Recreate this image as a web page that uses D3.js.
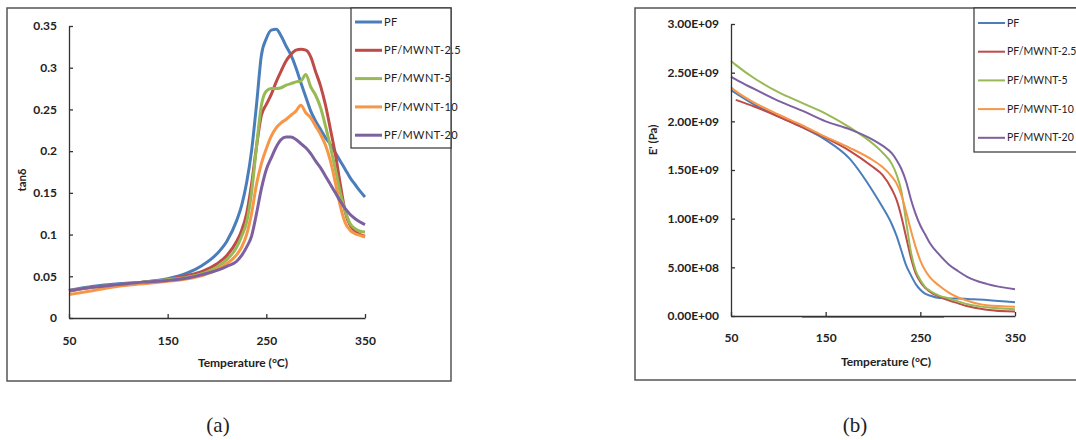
<!DOCTYPE html>
<html>
<head>
<meta charset="utf-8">
<script src="https://cdn.jsdelivr.net/npm/d3@7"></script>
<style>
  body { margin: 0; background: #fff; }
  text { font-family: Lato, "Open Sans", sans-serif; fill: #222; }
</style>
</head>
<body>
<script>
// series names + colours (Excel 2007 palette)
const seriesNames = ["PF", "PF/MWNT-2.5", "PF/MWNT-5", "PF/MWNT-10", "PF/MWNT-20"];
const seriesColors = ["#4a7ebb", "#be4b48", "#98b954", "#f79646", "#7d60a0"];

// panel (a): tan delta vs temperature
const tempsA = [50, 75, 100, 125, 150, 170, 185, 200, 210, 220, 225, 230, 235, 240, 245, 250, 255, 260,
  265, 270, 275, 280, 285, 290, 295, 300, 305, 310, 315, 320, 325, 330, 335, 340, 345, 350];
const tanPF = [0.033, 0.038, 0.041, 0.043, 0.047, 0.054, 0.063, 0.077, 0.092, 0.117, 0.135, 0.162, 0.200, 0.255,
  0.315, 0.335, 0.345, 0.346, 0.338, 0.326, 0.315, 0.300, 0.282, 0.265, 0.248, 0.236, 0.226, 0.216, 0.208,
  0.198, 0.188, 0.178, 0.168, 0.160, 0.152, 0.145];
const tanMW25 = [0.032, 0.037, 0.040, 0.043, 0.046, 0.051, 0.056, 0.065, 0.075, 0.092, 0.105, 0.125, 0.160, 0.205,
  0.243, 0.256, 0.268, 0.283, 0.296, 0.308, 0.316, 0.321, 0.322, 0.321, 0.313, 0.295, 0.278, 0.255, 0.226,
  0.196, 0.160, 0.127, 0.111, 0.104, 0.100, 0.098];
const tanMW5 = [0.033, 0.037, 0.040, 0.043, 0.046, 0.049, 0.053, 0.061, 0.070, 0.085, 0.098, 0.115, 0.150, 0.205,
  0.255, 0.272, 0.275, 0.275, 0.276, 0.279, 0.281, 0.283, 0.284, 0.292, 0.277, 0.267, 0.252, 0.230, 0.205,
  0.178, 0.150, 0.128, 0.113, 0.107, 0.104, 0.103];
const tanMW10 = [0.028, 0.033, 0.038, 0.041, 0.044, 0.047, 0.051, 0.058, 0.065, 0.076, 0.085, 0.100, 0.125, 0.160,
  0.185, 0.203, 0.218, 0.228, 0.234, 0.238, 0.243, 0.248, 0.255, 0.246, 0.240, 0.230, 0.220, 0.207, 0.188,
  0.162, 0.134, 0.114, 0.105, 0.101, 0.099, 0.097];
const tanMW20 = [0.033, 0.037, 0.040, 0.043, 0.045, 0.048, 0.052, 0.057, 0.062, 0.068, 0.075, 0.085, 0.098, 0.125,
  0.155, 0.178, 0.192, 0.205, 0.214, 0.217, 0.217, 0.214, 0.209, 0.204, 0.197, 0.188, 0.180, 0.170, 0.160,
  0.150, 0.140, 0.131, 0.124, 0.119, 0.115, 0.112];
const ticksTan = [0, 0.05, 0.1, 0.15, 0.2, 0.25, 0.3, 0.35];

// panel (b): storage modulus E' (in units of 1e9 Pa)
const tempsB = [50, 55, 75, 100, 125, 150, 175, 200, 210, 220, 225, 230, 235, 240, 245, 250, 255, 260,
  270, 280, 290, 300, 320, 350];
const ePF = [2.32, 2.29, 2.17, 2.05, 1.94, 1.81, 1.62, 1.28, 1.12, 0.94, 0.82, 0.67, 0.52, 0.42, 0.33, 0.27,
  0.23, 0.21, 0.185, 0.18, 0.18, 0.175, 0.165, 0.14];
const eMW25 = [null, 2.22, 2.15, 2.05, 1.94, 1.83, 1.70, 1.53, 1.45, 1.30, 1.19, 1.02, 0.81, 0.60, 0.44, 0.35,
  0.29, 0.25, 0.20, 0.16, 0.13, 0.10, 0.065, 0.045];
const eMW5 = [2.62, 2.58, 2.44, 2.30, 2.19, 2.08, 1.94, 1.77, 1.68, 1.56, 1.45, 1.28, 0.97, 0.66, 0.47, 0.37,
  0.30, 0.26, 0.21, 0.18, 0.15, 0.12, 0.09, 0.07];
const eMW10 = [2.35, 2.31, 2.19, 2.07, 1.96, 1.84, 1.73, 1.60, 1.53, 1.43, 1.36, 1.24, 1.07, 0.88, 0.71, 0.57,
  0.47, 0.40, 0.31, 0.24, 0.19, 0.155, 0.11, 0.095];
const eMW20 = [2.46, 2.43, 2.33, 2.21, 2.11, 2.00, 1.92, 1.81, 1.75, 1.67, 1.60, 1.51, 1.38, 1.20, 1.05, 0.93,
  0.84, 0.75, 0.63, 0.53, 0.46, 0.40, 0.33, 0.275];
const ticksE = [0, 0.5e9, 1e9, 1.5e9, 2e9, 2.5e9, 3e9];
// stray grey trace lying on the zero line
const zeroTraceT = [125, 275];
const zeroTraceE = [0, 0];

const ticksT = [50, 150, 250, 350];

const W = 1076, H = 440;
const svg = d3.select("body").append("svg")
    .attr("width", W)
    .attr("height", H);

function sci(d) {
  if (d === 0) return "0.00E+00";
  const e = Math.floor(Math.log10(d));
  const m = d / Math.pow(10, e);
  return m.toFixed(2) + "E+" + String(e).padStart(2, "0");
}

function drawPanel(p) {
  // outer frame
  svg.append("rect")
    .attr("x", p.frame[0]).attr("y", p.frame[1])
    .attr("width", p.frame[2]).attr("height", p.frame[3])
    .attr("fill", "none").attr("stroke", "#555").attr("stroke-width", 1.5);

  const x = d3.scaleLinear().domain([50, 350]).range(p.xRange);
  const y = d3.scaleLinear().domain(p.yDomain).range(p.yRange);

  const g = svg.append("g");

  // series lines
  const line = d3.line()
    .defined(d => d[1] != null)
    .x(d => x(d[0]))
    .y(d => y(d[1]))
    .curve(d3.curveMonotoneX);

  if (p.extra) {
    g.append("path")
      .datum(p.extra)
      .attr("fill", "none")
      .attr("stroke", "#999")
      .attr("stroke-width", 2)
      .attr("transform", "translate(0,1)")
      .attr("d", line);
  }

  p.series.forEach((vals, i) => {
    g.append("path")
      .datum(p.temps.map((t, j) => [t, vals[j] == null ? null : vals[j] * p.scale]))
      .attr("fill", "none")
      .attr("stroke", seriesColors[i])
      .attr("stroke-width", p.lw)
      .attr("stroke-linejoin", "round")
      .attr("d", line);
  });

  // axes, ticks pointing inward
  const xAxis = g.append("g")
    .attr("transform", `translate(0, ${p.yRange[0]})`)
    .call(d3.axisBottom(x).tickValues(ticksT).tickSize(-4).tickSizeOuter(0).tickPadding(p.xPad));
  const yAxis = g.append("g")
    .attr("transform", `translate(${p.xRange[0]}, 0)`)
    .call(d3.axisLeft(y).tickValues(p.yTicks).tickFormat(p.fmt).tickSize(-4).tickSizeOuter(0).tickPadding(12));

  [xAxis, yAxis].forEach(a => {
    a.select(".domain").attr("stroke", "#333").attr("stroke-width", 1.3);
    a.selectAll(".tick line").attr("stroke", "#333").attr("stroke-width", 1.3);
    a.selectAll("text")
      .style("font-family", "Lato, sans-serif")
      .style("font-size", "12px")
      .style("font-weight", "bold")
      .attr("fill", "#1a1a1a");
  });

  // axis titles
  svg.append("text")
    .attr("x", p.xTitle[0]).attr("y", p.xTitle[1])
    .attr("text-anchor", "middle")
    .style("font-size", "12px").style("font-weight", "bold")
    .text("Temperature (°C)");
  svg.append("text")
    .attr("transform", `translate(${p.yTitle[0]}, ${p.yTitle[1]}) rotate(-90)`)
    .attr("text-anchor", "middle")
    .style("font-size", "11.5px").style("font-weight", "bold")
    .text(p.yLabel);

  // legend
  const lg = svg.append("g");
  lg.append("rect")
    .attr("x", p.legend[0]).attr("y", p.legend[1])
    .attr("width", p.legend[2]).attr("height", p.legend[3])
    .attr("fill", "#fff").attr("stroke", "#333").attr("stroke-width", 1.2);
  seriesNames.forEach((name, i) => {
    const ly = p.legendY0 + i * p.legendStep;
    lg.append("line")
      .attr("x1", p.legend[0] + 4).attr("x2", p.legend[0] + 31)
      .attr("y1", ly).attr("y2", ly)
      .attr("stroke", seriesColors[i]).attr("stroke-width", p.lw);
    lg.append("text")
      .attr("x", p.legend[0] + 33).attr("y", ly)
      .attr("dy", "0.35em")
      .style("font-size", p.legendFont)
      .style("letter-spacing", p.legendSpacing)
      .text(name);
  });

  // panel caption
  svg.append("text")
    .attr("x", p.caption[0]).attr("y", p.caption[1])
    .attr("text-anchor", "middle")
    .style("font-family", "'Liberation Serif', 'DejaVu Serif', serif")
    .style("font-size", "21px")
    .attr("fill", "#000")
    .text(p.captionText);
}

drawPanel({
  frame: [7, 8, 444, 373],
  xRange: [69, 365], yRange: [318, 26],
  yDomain: [0, 0.35], yTicks: ticksTan, scale: 1,
  fmt: d => String(+d.toFixed(2)),
  temps: tempsA,
  series: [tanPF, tanMW25, tanMW5, tanMW10, tanMW20],
  lw: 3,
  xPad: 18,
  xTitle: [243, 367], yTitle: [26, 180], yLabel: "tanδ",
  legend: [351, 8, 100, 140], legendY0: 22, legendStep: 28.3,
  legendFont: "11px", legendSpacing: "0.4px",
  caption: [218, 432], captionText: "(a)"
});

drawPanel({
  frame: [635, 8, 460, 372],
  xRange: [731, 1015], yRange: [316, 24],
  yDomain: [0, 3e9], yTicks: ticksE, scale: 1e9,
  fmt: sci,
  temps: tempsB,
  series: [ePF, eMW25, eMW5, eMW10, eMW20],
  extra: zeroTraceT.map((t, i) => [t, zeroTraceE[i]]),
  lw: 2,
  xPad: 17,
  xTitle: [886, 366], yTitle: [657, 140], yLabel: "E' (Pa)",
  legend: [974, 8, 120, 144], legendY0: 23, legendStep: 28.7,
  legendFont: "10.5px", legendSpacing: "0px",
  caption: [855, 432], captionText: "(b)"
});
</script>
</body>
</html>
